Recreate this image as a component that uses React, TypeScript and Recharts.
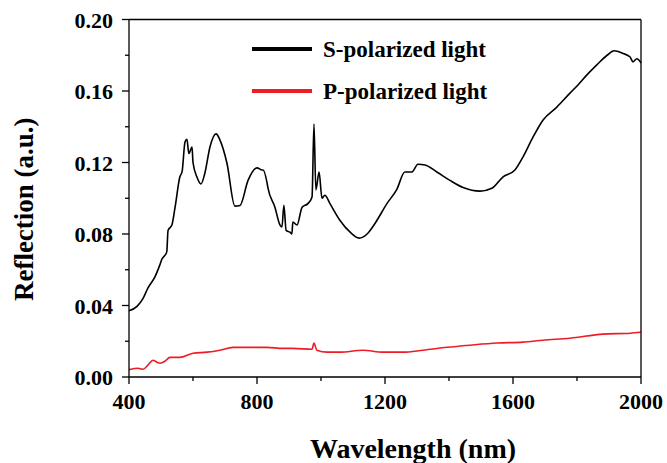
import React from 'react';
import { LineChart, Line, XAxis, YAxis, Legend, Label } from 'recharts';

// S-polarized reflection spectrum
const sWavelength = [
  400, 425, 444, 459, 481, 497, 503, 512, 518, 522, 534, 544, 559, 566, 575, 581, 587, 597,
  600, 612, 625, 637, 653, 672, 684, 706, 731, 747, 772, 800, 816, 819, 831, 834, 856, 872,
  878, 884, 891, 903, 909, 912, 925, 941, 959, 972, 978, 984, 994, 1003, 1012, 1028, 1059,
  1091, 1119, 1144, 1169, 1206, 1237, 1262, 1284, 1303, 1325, 1362, 1403, 1444, 1497, 1534,
  1569, 1606, 1631, 1662, 1694, 1737, 1778, 1803, 1831, 1862, 1894, 1916, 1944, 1966, 1975,
  1987, 2000,
];
const sReflection = [
  0.037, 0.0395, 0.044, 0.0497, 0.056, 0.063, 0.066, 0.068, 0.07, 0.082, 0.085, 0.095, 0.112,
  0.115, 0.1315, 0.133, 0.125, 0.1287, 0.12, 0.112, 0.108, 0.114, 0.1287, 0.136, 0.1327,
  0.1197, 0.0956, 0.096, 0.11, 0.117, 0.1158, 0.1158, 0.109, 0.106, 0.095, 0.085, 0.084,
  0.096, 0.082, 0.081, 0.08, 0.0867, 0.085, 0.095, 0.097, 0.1007, 0.1415, 0.1046, 0.1147,
  0.1, 0.1017, 0.097, 0.0877, 0.081, 0.0777, 0.08, 0.086, 0.097, 0.105, 0.1147, 0.1147,
  0.119, 0.1186, 0.1147, 0.11, 0.106, 0.104, 0.1056, 0.112, 0.1158, 0.123, 0.134, 0.1438,
  0.151, 0.1588, 0.1634, 0.169, 0.1746, 0.18, 0.1825, 0.181, 0.179, 0.1763, 0.178, 0.1757,
];

// P-polarized reflection spectrum
const pWavelength = [
  400, 428, 444, 459, 475, 487, 497, 512, 528, 559, 600, 644, 684, 725, 778, 831, 881, 912,
  972, 978, 987, 1019, 1059, 1131, 1194, 1256, 1319, 1394, 1466, 1550, 1631, 1694, 1778,
  1881, 1966, 2000,
];
const pReflection = [
  0.0041, 0.0049, 0.0043, 0.0066, 0.0094, 0.0083, 0.0077, 0.0088, 0.011, 0.011, 0.0133,
  0.0139, 0.015, 0.0166, 0.0166, 0.0166, 0.016, 0.016, 0.0155, 0.019, 0.015, 0.0139, 0.0139,
  0.015, 0.0139, 0.0139, 0.015, 0.0166, 0.0178, 0.019, 0.0195, 0.0206, 0.0217, 0.024,
  0.0245, 0.025,
];

const xTicks = [400, 600, 800, 1000, 1200, 1400, 1600, 1800, 2000];
const yTicks = [0, 0.02, 0.04, 0.06, 0.08, 0.1, 0.12, 0.14, 0.16, 0.18, 0.2];

const sData = sWavelength.map((nm, i) => ({ nm, r: sReflection[i] }));
const pData = pWavelength.map((nm, i) => ({ nm, r: pReflection[i] }));

const FONT = '"Liberation Serif", "Times New Roman", serif';
const RED = '#ee1c25';

const BottomTick = (props: any) => {
  const { x, y, payload, index } = props;
  const major = index % 2 === 0;
  return (
    <g>
      <line x1={x} y1={y} x2={x} y2={y + (major ? 7 : 4)} stroke="#000" strokeWidth={1.3} />
      {major && (
        <text x={x} y={y + 32} textAnchor="middle" fontFamily={FONT} fontWeight="bold" fontSize={22} fill="#000">
          {payload.value}
        </text>
      )}
    </g>
  );
};

const TopTick = (props: any) => {
  const { x, y, index } = props;
  const major = index % 2 === 0;
  return <line x1={x} y1={y} x2={x} y2={y + (major ? 5 : 4)} stroke="#000" strokeWidth={1.3} />;
};

const LeftTick = (props: any) => {
  const { x, y, payload, index } = props;
  const major = index % 2 === 0;
  return (
    <g>
      <line x1={x - (major ? 7 : 4)} y1={y} x2={x} y2={y} stroke="#000" strokeWidth={1.3} />
      {major && (
        <text x={x - 16} y={y + 8} textAnchor="end" fontFamily={FONT} fontWeight="bold" fontSize={22} fill="#000">
          {Number(payload.value).toFixed(2)}
        </text>
      )}
    </g>
  );
};

const RightTick = (props: any) => {
  const { x, y, index } = props;
  const major = index % 2 === 0;
  return <line x1={x - (major ? 5 : 4)} y1={y} x2={x} y2={y} stroke="#000" strokeWidth={1.3} />;
};

const legendItems = [
  { name: 'S-polarized light', color: '#000' },
  { name: 'P-polarized light', color: RED },
];

const SpectrumLegend = () => (
  <div style={{ fontFamily: FONT, fontWeight: 'bold', fontSize: 23 }}>
    {legendItems.map((item) => (
      <div key={item.name} style={{ display: 'flex', alignItems: 'center', height: 42 }}>
        <span style={{ display: 'inline-block', width: 60, height: 3.5, background: item.color }} />
        <span style={{ marginLeft: 11, lineHeight: '23px' }}>{item.name}</span>
      </div>
    ))}
  </div>
);

const YTitle = (props: any) => {
  const { viewBox } = props;
  const cx = 33;
  const cy = viewBox.y + viewBox.height / 2 + 11;
  return (
    <text
      x={cx}
      y={cy}
      transform={`rotate(-90, ${cx}, ${cy})`}
      textAnchor="middle"
      fontFamily={FONT}
      fontWeight="bold"
      fontSize={27}
      fill="#000"
    >
      Reflection (a.u.)
    </text>
  );
};

const XTitle = (props: any) => {
  const { viewBox } = props;
  const cx = viewBox.x + viewBox.width / 2 + 28;
  return (
    <text x={cx} y={458} textAnchor="middle" fontFamily={FONT} fontWeight="bold" fontSize={28} fill="#000">
      Wavelength (nm)
    </text>
  );
};

export default function App() {
  return (
    <div style={{ position: 'absolute', left: 0, top: 0, background: '#fff' }}>
      <LineChart width={667} height={463} margin={{ top: 18.5, right: 25, bottom: 0, left: 0 }}>
        <XAxis
          dataKey="nm"
          type="number"
          domain={[400, 2000]}
          ticks={xTicks}
          interval={0}
          height={86}
          tickSize={0}
          tickMargin={0}
          tickLine={false}
          axisLine={{ stroke: '#000', strokeWidth: 1.3 }}
          tick={<BottomTick />}
        >
          <Label content={<XTitle />} />
        </XAxis>
        <XAxis
          xAxisId="top"
          orientation="top"
          type="number"
          dataKey="nm"
          domain={[400, 2000]}
          ticks={xTicks}
          interval={0}
          height={1}
          tickSize={0}
          tickMargin={0}
          tickLine={false}
          axisLine={{ stroke: '#000', strokeWidth: 1.3 }}
          tick={<TopTick />}
        />
        <YAxis
          type="number"
          domain={[0, 0.2]}
          ticks={yTicks}
          interval={0}
          width={129}
          tickSize={0}
          tickMargin={0}
          tickLine={false}
          axisLine={{ stroke: '#000', strokeWidth: 1.3 }}
          tick={<LeftTick />}
        >
          <Label content={<YTitle />} />
        </YAxis>
        <YAxis
          yAxisId="right"
          orientation="right"
          type="number"
          domain={[0, 0.2]}
          ticks={yTicks}
          interval={0}
          width={1}
          tickSize={0}
          tickMargin={0}
          tickLine={false}
          axisLine={{ stroke: '#000', strokeWidth: 1.3 }}
          tick={<RightTick />}
        />
        <Legend
          layout="horizontal"
          verticalAlign="middle"
          align="center"
          wrapperStyle={{ left: 252, top: 28, width: 'auto' }}
          content={<SpectrumLegend />}
        />
        <Line
          data={sData}
          dataKey="r"
          name="S-polarized light"
          type="monotone"
          stroke="#000"
          strokeWidth={1.6}
          dot={false}
          isAnimationActive={false}
        />
        <Line
          data={pData}
          dataKey="r"
          name="P-polarized light"
          type="monotone"
          stroke={RED}
          strokeWidth={1.6}
          dot={false}
          isAnimationActive={false}
        />
      </LineChart>
    </div>
  );
}
